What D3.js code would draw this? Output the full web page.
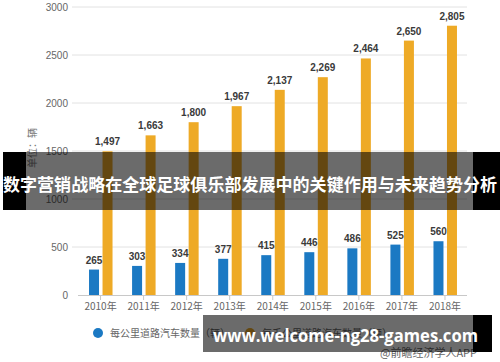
<!DOCTYPE html>
<html>
<head>
<meta charset="utf-8">
<script src="https://cdn.jsdelivr.net/npm/d3@7"></script>
<style>
  body { margin: 0; background: #fff; }
  svg { display: block; }
</style>
</head>
<body>
<div id="chart"></div>
<script>
// data
var years = ['2010年', '2011年', '2012年', '2013年', '2014年', '2015年', '2016年', '2017年', '2018年'];
var carsPerKm = [265, 303, 334, 377, 415, 446, 486, 525, 560];
var carsPerThousandKm = [1497, 1663, 1800, 1967, 2137, 2269, 2464, 2650, 2805];
var yTicks = [0, 500, 1000, 1500, 2000, 2500, 3000];
var legendNames = ['每公里道路汽车数量（辆）', '每千公里道路汽车数量（辆）'];
var title = '数字营销战略在全球足球俱乐部发展中的关键作用与未来趋势分析';
var siteText = 'www.welcome-ng28-games.com';
var sourceText = '@前瞻经济学人APP';

var config = {
    width: 500,
    height: 362,
    blue: '#1b79c3',
    orange: '#eeaa26',
    barWidth: 10
};

var cjk = '"Noto Sans CJK SC", "Noto Sans", sans-serif';
var latin = '"Liberation Sans", Arial, sans-serif';

var svg = d3.select('#chart')
    .append('svg')
    .attr('width', config.width)
    .attr('height', config.height);

svg.append('rect')
    .attr('width', config.width)
    .attr('height', config.height)
    .attr('fill', '#fff');

var x = d3.scaleBand().domain(years).range([79, 466.5]);
var y = d3.scaleLinear().domain([0, 3000]).range([295, 7]);
var center = function(d) { return x(d) + x.bandwidth() / 2; };

// gridlines
svg.selectAll('line.grid')
    .data(yTicks.slice(1))
    .enter().append('line')
    .classed('grid', true)
    .attr('x1', 72).attr('x2', 467)
    .attr('y1', function(d) { return y(d); })
    .attr('y2', function(d) { return y(d); })
    .attr('stroke', '#e2e2e2')
    .attr('stroke-width', 1);

// y labels
svg.selectAll('text.ytick')
    .data(yTicks)
    .enter().append('text')
    .classed('ytick', true)
    .attr('x', 68)
    .attr('y', function(d) { return y(d); })
    .attr('dy', '0.35em')
    .attr('text-anchor', 'end')
    .attr('font-family', latin)
    .attr('font-size', 10)
    .attr('fill', '#666')
    .text(function(d) { return d; });

// y title
svg.append('text')
    .attr('transform', 'translate(36,148) rotate(-90)')
    .attr('text-anchor', 'middle')
    .attr('font-family', cjk)
    .attr('font-size', 10)
    .attr('fill', '#777')
    .text('单位：辆');

// x axis
var xAxis = d3.axisBottom(x).tickSize(5).tickSizeOuter(0);
var gx = svg.append('g')
    .attr('transform', 'translate(0,295)')
    .call(xAxis);
gx.select('.domain').attr('stroke', '#c8c8c8').attr('d', 'M78,0.5H467');
gx.selectAll('.tick line').attr('stroke', '#c8c8c8');
gx.selectAll('.tick text')
    .attr('y', 8)
    .attr('font-family', cjk)
    .attr('font-size', 10)
    .attr('fill', '#666');

// bars
svg.selectAll('rect.blue')
    .data(years)
    .enter().append('rect')
    .classed('blue', true)
    .attr('x', function(d) { return center(d) - 11.5; })
    .attr('y', function(d, i) { return y(carsPerKm[i]); })
    .attr('width', config.barWidth)
    .attr('height', function(d, i) { return y(0) - y(carsPerKm[i]); })
    .attr('fill', config.blue);

svg.selectAll('rect.orange')
    .data(years)
    .enter().append('rect')
    .classed('orange', true)
    .attr('x', function(d) { return center(d) + 2; })
    .attr('y', function(d, i) { return y(carsPerThousandKm[i]); })
    .attr('width', config.barWidth)
    .attr('height', function(d, i) { return y(0) - y(carsPerThousandKm[i]); })
    .attr('fill', config.orange);

// value labels
var fmt = d3.format(',');
svg.selectAll('text.vblue')
    .data(years)
    .enter().append('text')
    .attr('x', function(d) { return center(d) - 6.5; })
    .attr('y', function(d, i) { return y(carsPerKm[i]) - 6; })
    .attr('text-anchor', 'middle')
    .attr('font-family', latin)
    .attr('font-weight', 'bold')
    .attr('font-size', 10)
    .attr('fill', '#3a3a3a')
    .text(function(d, i) { return fmt(carsPerKm[i]); });

svg.selectAll('text.vorange')
    .data(years)
    .enter().append('text')
    .attr('x', function(d) { return center(d) + 7; })
    .attr('y', function(d, i) { return y(carsPerThousandKm[i]) - 6; })
    .attr('text-anchor', 'middle')
    .attr('font-family', latin)
    .attr('font-weight', 'bold')
    .attr('font-size', 10)
    .attr('fill', '#3a3a3a')
    .text(function(d, i) { return fmt(carsPerThousandKm[i]); });

// legend
var legendX = [98, 250];
var legendColors = [config.blue, config.orange];
legendNames.forEach(function(name, i) {
    svg.append('circle')
        .attr('cx', legendX[i]).attr('cy', 333)
        .attr('r', 5)
        .attr('fill', legendColors[i]);
    svg.append('text')
        .attr('x', legendX[i] + 12).attr('y', 333)
        .attr('dy', '0.35em')
        .attr('font-family', cjk)
        .attr('font-size', 10)
        .attr('fill', '#666')
        .text(name);
});

// source
svg.append('text')
    .attr('x', 380).attr('y', 357)
    .attr('font-family', cjk)
    .attr('font-size', 11)
    .attr('fill', '#666')
    .text(sourceText);

// title band over the chart
svg.append('rect').attr('x', 3).attr('y', 152).attr('width', 23).attr('height', 58).attr('fill', '#000');
svg.append('rect').attr('x', 473).attr('y', 152).attr('width', 27).attr('height', 58).attr('fill', '#000');
svg.append('rect').attr('x', 26).attr('y', 152).attr('width', 447).attr('height', 58)
    .attr('fill', '#000').attr('fill-opacity', 0.58);
svg.append('text')
    .attr('x', 250).attr('y', 183)
    .attr('dominant-baseline', 'central')
    .attr('text-anchor', 'middle')
    .attr('font-family', cjk)
    .attr('font-weight', 'bold')
    .attr('font-size', 17.6)
    .attr('textLength', 494)
    .attr('lengthAdjust', 'spacingAndGlyphs')
    .attr('fill', '#fff')
    .text(title);

// site banner
svg.append('rect').attr('x', 473).attr('y', 315).attr('width', 19).attr('height', 37).attr('fill', '#000');
svg.append('rect').attr('x', 203).attr('y', 315).attr('width', 270).attr('height', 37)
    .attr('fill', '#000').attr('fill-opacity', 0.58);
svg.append('text')
    .attr('x', 213).attr('y', 342)
    .attr('font-family', '"Open Sans", "DejaVu Sans", sans-serif')
    .attr('font-weight', 'bold')
    .attr('font-size', 18.5)
    .attr('textLength', 265)
    .attr('lengthAdjust', 'spacingAndGlyphs')
    .attr('fill', '#fff')
    .text(siteText);
</script>
</body>
</html>
